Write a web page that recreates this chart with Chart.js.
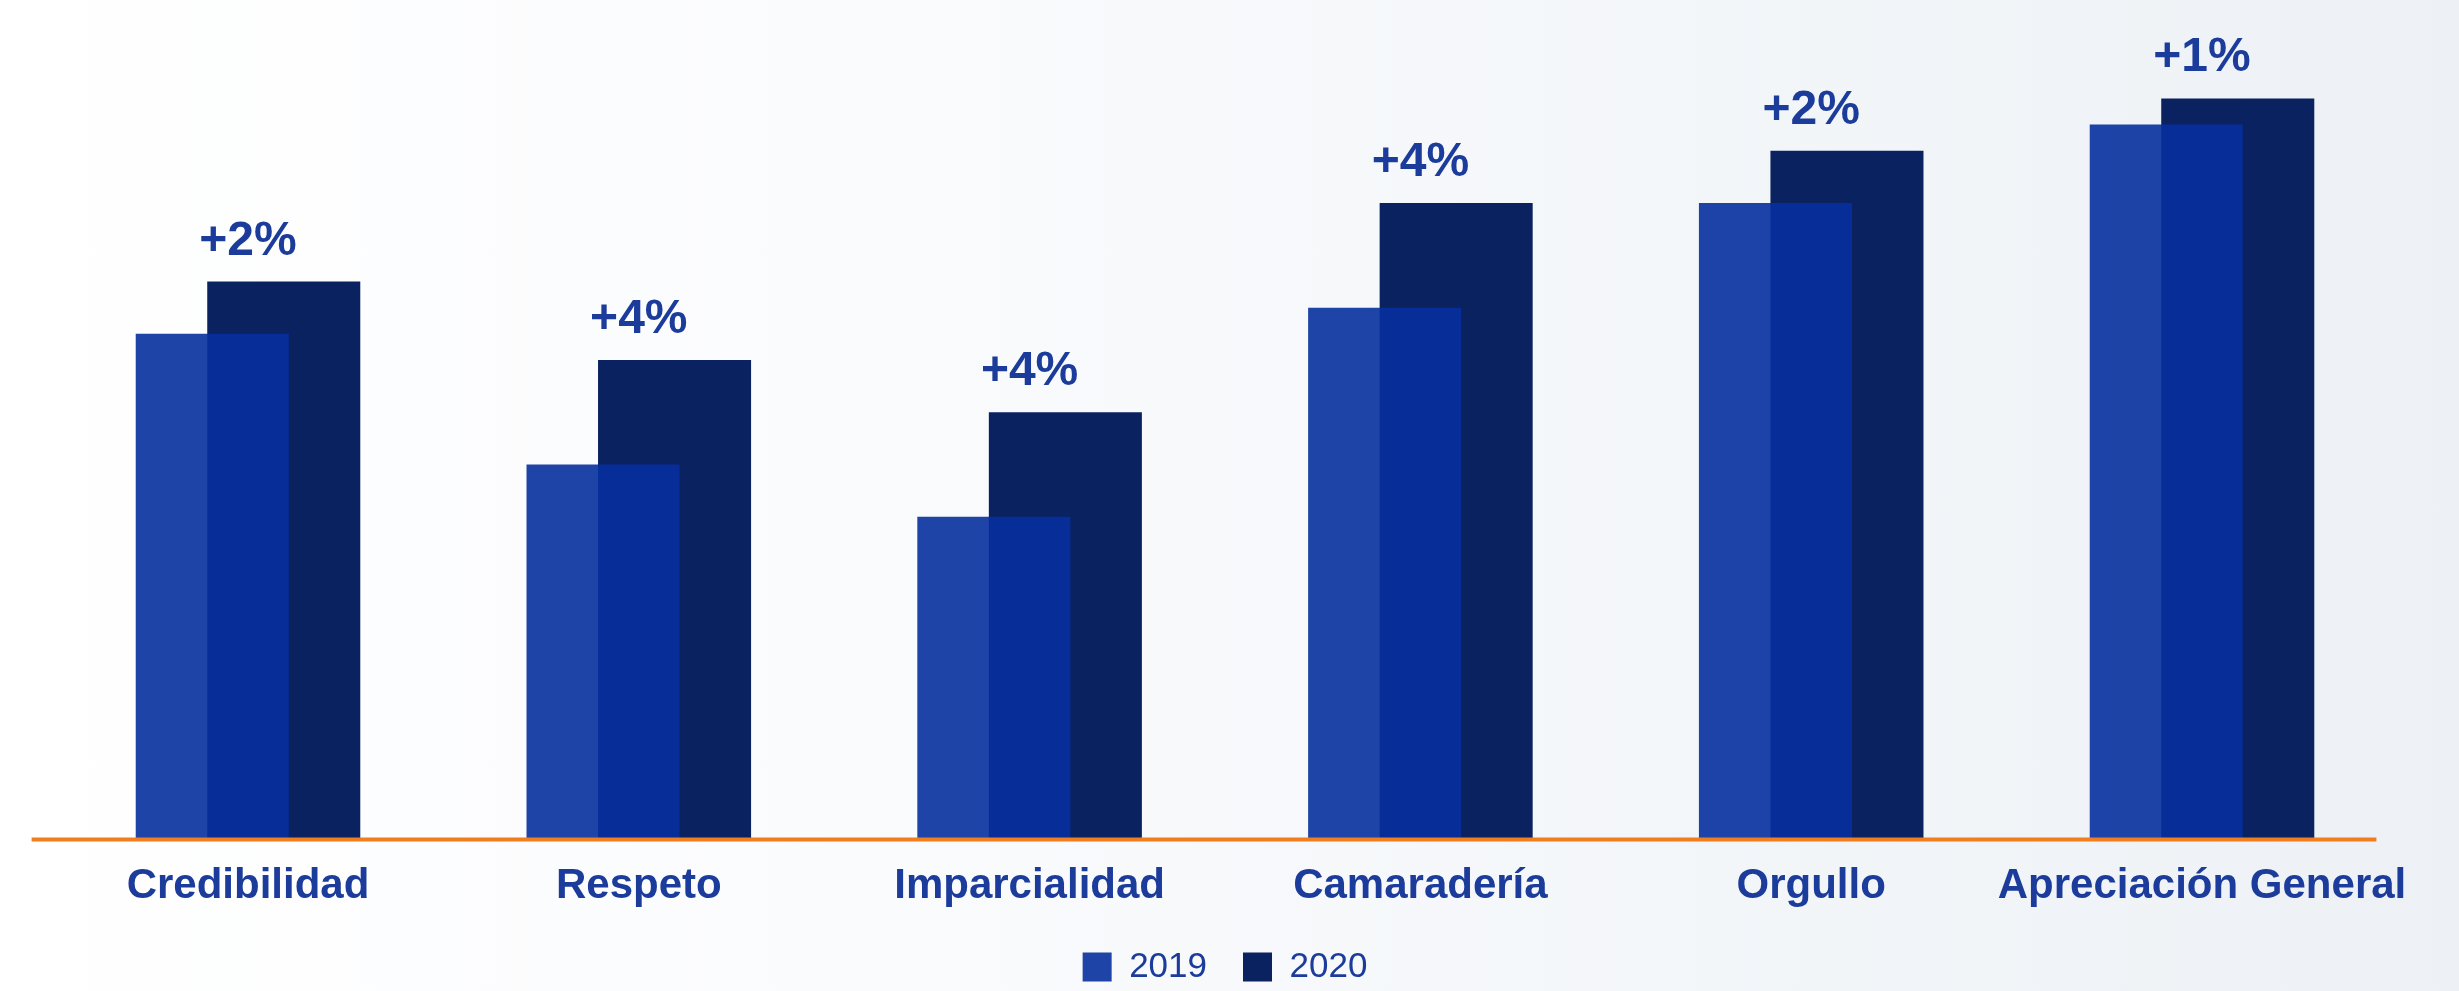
<!DOCTYPE html>
<html lang="es">
<head>
<meta charset="utf-8">
<title>Resultados 2019 vs 2020</title>
<script src="https://cdn.jsdelivr.net/npm/chart.js@4.4.1/dist/chart.umd.min.js"></script>
<style>
  html, body {
    margin: 0;
    padding: 0;
    overflow: hidden;
  }
  body {
    width: 2459px;
    height: 991px;
    background: linear-gradient(90deg, #ffffff 0%, #fafbfd 35%, #f3f6f9 70%, #edf1f5 100%);
  }
  .chart-wrapper {
    position: relative;
    width: 2459px;
    height: 991px;
  }
</style>
</head>
<body>
<div class="chart-wrapper">
  <canvas id="dimensionChart"></canvas>
</div>
<script>
  const categories = ['Credibilidad', 'Respeto', 'Imparcialidad', 'Camaradería', 'Orgullo', 'Apreciación General'];
  const seriesLabels = ['2019', '2020'];
  const values2019 = [79, 74, 72, 80, 84, 87];
  const values2020 = [81, 78, 76, 84, 86, 88];

  const textBlue = '#1c3c9c';
  const baselineOrange = '#f07d1e';

  Chart.defaults.font.family = "'Liberation Sans', Arial, sans-serif";

  // Orange baseline drawn over the bar feet
  const baselinePlugin = {
    id: 'baseline',
    afterDatasetsDraw(chart) {
      const { ctx, chartArea } = chart;
      const shift = -21;
      const y = chart.scales.y.bottom + 1;
      ctx.save();
      ctx.strokeStyle = baselineOrange;
      ctx.lineWidth = 4;
      ctx.beginPath();
      ctx.moveTo(chartArea.left + shift, y);
      ctx.lineTo(chartArea.right + shift, y);
      ctx.stroke();
      ctx.restore();
    }
  };

  // Year-over-year change printed above each 2020 bar
  const changeLabelsPlugin = {
    id: 'changeLabels',
    afterDatasetsDraw(chart) {
      const { ctx } = chart;
      const xScale = chart.scales.x;
      const meta = chart.getDatasetMeta(1);
      ctx.save();
      ctx.font = "bold 48px 'Liberation Sans', Arial, sans-serif";
      ctx.fillStyle = textBlue;
      ctx.textAlign = 'center';
      ctx.textBaseline = 'alphabetic';
      meta.data.forEach((bar, i) => {
        const diff = values2020[i] - values2019[i];
        ctx.fillText(`+${diff}%`, xScale.getPixelForValue(i), bar.y - 27);
      });
      ctx.restore();
    }
  };

  const ctx = document.getElementById('dimensionChart').getContext('2d');

  new Chart(ctx, {
    type: 'bar',
    data: {
      labels: categories,
      datasets: [
        {
          label: seriesLabels[0],
          data: values2019,
          backgroundColor: 'rgba(7, 48, 158, 0.9)',
          borderWidth: 0,
          categoryPercentage: 0.366,
          barPercentage: 2.14
        },
        {
          label: seriesLabels[1],
          data: values2020,
          backgroundColor: '#0a2260',
          borderWidth: 0,
          categoryPercentage: 0.366,
          barPercentage: 2.14
        }
      ]
    },
    options: {
      responsive: true,
      maintainAspectRatio: false,
      animation: false,
      events: [],
      layout: {
        padding: { left: 52.6, right: 61.6, top: 20, bottom: -3.5 }
      },
      plugins: {
        legend: {
          position: 'bottom',
          labels: {
            boxWidth: 29,
            boxHeight: 29,
            padding: 36,
            color: textBlue,
            font: { size: 35 }
          }
        },
        tooltip: { enabled: false }
      },
      scales: {
        x: {
          grid: { display: false, drawTicks: false },
          border: { display: false },
          ticks: {
            color: textBlue,
            padding: 23,
            autoSkip: false,
            maxRotation: 0,
            minRotation: 0,
            font: { size: 42, weight: 'bold' }
          },
          // trim the axis band so the legend row sits closer to the labels
          afterFit(scale) {
            scale.height = 75;
          }
        },
        y: {
          display: false,
          min: 59.7,
          max: 91
        }
      }
    },
    plugins: [baselinePlugin, changeLabelsPlugin]
  });
</script>
</body>
</html>
